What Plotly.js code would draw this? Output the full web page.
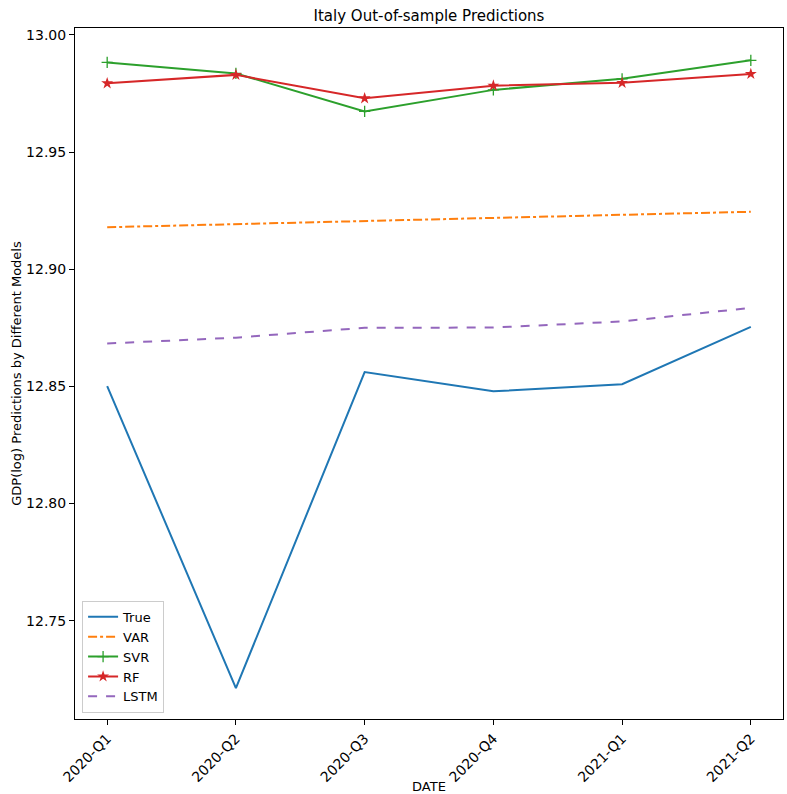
<!DOCTYPE html>
<html>
<head>
<meta charset="utf-8">
<script src="https://cdn.plot.ly/plotly-3.0.1.min.js"></script>
<style>html,body{margin:0;padding:0;background:#fff;}#chart{width:787px;height:794px;}</style>
</head>
<body>
<div id="chart"></div>
<script>
const dates = ["2020-Q1","2020-Q2","2020-Q3","2020-Q4","2021-Q1","2021-Q2"];
const trueVals = [12.8501, 12.7213, 12.8561, 12.8479, 12.8509, 12.8754];
const varVals  = [12.9179, 12.9193, 12.9206, 12.9219, 12.9232, 12.9245];
const svrVals  = [12.9882, 12.9835, 12.9673, 12.9765, 12.9812, 12.9891];
const rfVals   = [12.9793, 12.9829, 12.9729, 12.9783, 12.9795, 12.9833];
const lstmVals = [12.8683, 12.8708, 12.8750, 12.8751, 12.8777, 12.8835];

const traces = [
  {x: dates, y: trueVals, name: "True", mode: "lines", line: {color: "#1f77b4", width: 2}},
  {x: dates, y: varVals, name: "VAR", mode: "lines", line: {color: "#ff7f0e", width: 2, dash: "dashdot"}},
  {x: dates, y: svrVals, name: "SVR", mode: "lines+markers", line: {color: "#2ca02c", width: 2},
   marker: {symbol: "cross-thin-open", size: 8, line: {color: "#2ca02c", width: 1.3}}},
  {x: dates, y: rfVals, name: "RF", mode: "lines+markers", line: {color: "#d62728", width: 2},
   marker: {symbol: "star", size: 9, color: "#d62728"}},
  {x: dates, y: lstmVals, name: "LSTM", mode: "lines", line: {color: "#9467bd", width: 2, dash: "dash"}}
];

const layout = {
  width: 787, height: 794,
  margin: {l: 75, r: 4, t: 28, b: 75},
  paper_bgcolor: "#fff", plot_bgcolor: "#fff",
  font: {family: "DejaVu Sans", size: 13, color: "#000"},
  title: {text: "Italy Out-of-sample Predictions", font: {size: 15}, x: 0.5, xanchor: "center", xref: "paper", y: 0.98, yanchor: "middle"},
  showlegend: true,
  legend: {x: 0.01, y: 0.009, xanchor: "left", yanchor: "bottom", bgcolor: "rgba(255,255,255,0.8)", bordercolor: "#ccc", borderwidth: 1, font: {size: 13}, tracegroupgap: 0},
  xaxis: {
    type: "category", range: [-0.25, 5.25], tickangle: -45,
    showgrid: false, zeroline: false, showline: true, mirror: true, linecolor: "#000", linewidth: 1,
    ticks: "outside", ticklen: 5, tickcolor: "#000", tickfont: {size: 14},
    title: {text: "DATE", font: {size: 13}, standoff: 2}, automargin: false
  },
  yaxis: {
    range: [12.7081, 13.0029], dtick: 0.05, tick0: 12.75, tickformat: ".2f",
    showgrid: false, zeroline: false, showline: true, mirror: true, linecolor: "#000", linewidth: 1,
    ticks: "outside", ticklen: 5, tickcolor: "#000", tickfont: {size: 14},
    title: {text: "GDP(log) Predictions by Different Models", font: {size: 13}, standoff: 1}, automargin: false
  }
};
Plotly.newPlot("chart", traces, layout, {displayModeBar: false});
</script>
</body>
</html>
